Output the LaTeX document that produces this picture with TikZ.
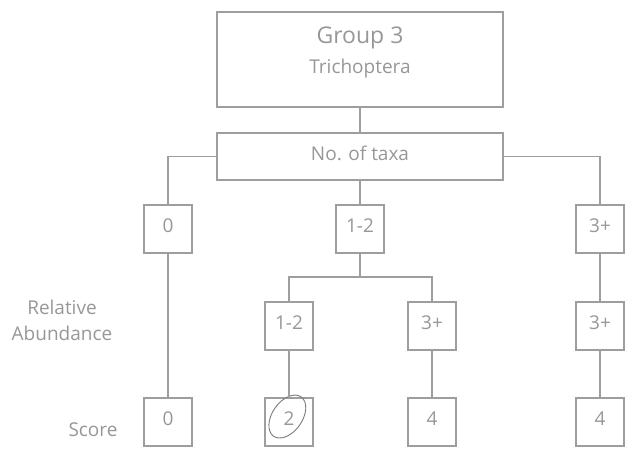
\documentclass[tikz,border=0pt]{standalone}
\usepackage{fontspec}
\setmainfont{Open Sans}
\usepackage{tikz}
\usetikzlibrary{positioning,calc}
\definecolor{wire}{HTML}{9E9E9E}
\definecolor{ink}{HTML}{979797}
\definecolor{pen}{HTML}{7A7A7A}

\begin{document}
\begin{tikzpicture}[
  box/.style={draw=wire,line width=1.2pt,minimum width=48pt,minimum height=48pt,
              inner sep=0pt,outer sep=0pt,text=ink,font=\fontsize{19}{22}\selectfont,
              text height=14pt,text depth=8pt},
  wide/.style={box,minimum width=286pt},
  lbl/.style={text=ink,font=\fontsize{19}{26}\selectfont,align=center,inner sep=0pt},
  link/.style={draw=wire,line width=1.2pt}
]
\useasboundingbox (0pt,0pt) rectangle (626pt,-449pt);
% header boxes
\node[wide,minimum height=95pt] (g) at (360pt,-59.5pt) {};
\node[lbl,anchor=base,font=\fontsize{23}{26}\selectfont] (grp) at ([yshift=15.5pt]g.center) {Group 3};
\node[lbl,anchor=base] (ord) at ([yshift=-14.5pt]g.center) {Trichoptera};
\node[wide,minimum height=47pt,text height=14pt,text depth=5pt] (taxa) [below=26pt of g] {No. of taxa};
% number of taxa
\node[box] (b12) [below=25pt of taxa] {1-2};
\node[box] (b0) [left=144pt of b12] {0};
\node[box] (b3) [right=192pt of b12] {3+};
% relative abundance
\node[box] (a12) [below=49pt of b12,xshift=-71pt] {1-2};
\node[box] (a3m) [below=49pt of b12,xshift=72pt] {3+};
\node[box] (a3r) [below=49pt of b3] {3+};
% score
\node[box] (s2) [below=48pt of a12] {2};
\node[box] (s4) [below=48pt of a3m] {4};
\node[box] (s4r) [below=48pt of a3r] {4};
\node[box] (s0) at (b0 |- s2) {0};
\draw[draw=pen,line width=0.9pt,rotate around={55:($(s2.center)+(3.5pt,4.5pt)$)}]
  ($(s2.center)+(3.5pt,4.5pt)$) ellipse (24pt and 15pt);
% row labels
\node[lbl] (rel) at (62pt,-320pt) {Relative\\Abundance};
\node[lbl] (score) at (93pt,-430pt) {Score};
% connectors
\coordinate[below=24pt of b12] (fork);
\draw[link] (g) -- (taxa);
\draw[link] (taxa) -- (b12);
\draw[link] (taxa.west) -| (b0);
\draw[link] (taxa.east) -| (b3);
\draw[link] (b12) -- (fork);
\draw[link] (a12) |- (fork) -| (a3m);
\draw[link] (b0) -- (s0);
\draw[link] (a12) -- (s2);
\draw[link] (a3m) -- (s4);
\draw[link] (b3) -- (a3r) -- (s4r);
\end{tikzpicture}
\end{document}
